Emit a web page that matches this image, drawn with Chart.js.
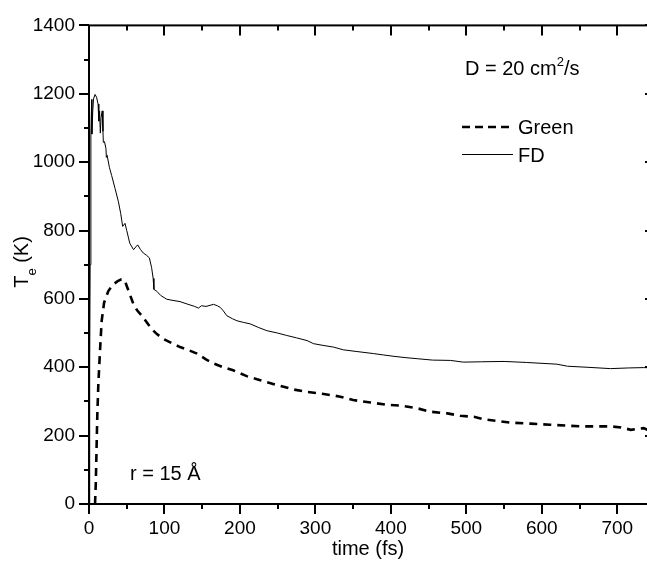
<!DOCTYPE html>
<html>
<head>
<meta charset="utf-8">
<script src="https://cdn.jsdelivr.net/npm/chart.js@4"></script>
<style>
  html, body { margin:0; padding:0; background:#fff; overflow:hidden; }
  #wrap { width:660px; height:574px; }
</style>
</head>
<body>
<div id="wrap"><canvas id="chart" width="660" height="574"></canvas></div>
<script>
// ── data ──
const fdTime = [0,0.8,1,1.5,2.5,3.5,3.8,5,6,8,10,12,13,14,15,16,17.5,18.5,19,20.5,22.5,23,24,27,30,34.5,39,42,44.6,47.7,50,54,59,62,64.5,68,72,76,80,83,85,86,90,95,103,110,120.7,130,140,145,149,155,165,170,174,178,182.5,190,196,205,213.5,225,235.7,250,262,275,289,297.5,310,324,337,355,377,390,404,420,435,455,479,496,520,550,580,620,634,660,691,715,735,750];
const fdTemp = [0,0,400,700,1080,1183,1082,1150,1185,1198,1190,1170,1120,1150,1085,1130,1150,1090,1058,1060,1039,1014,1020,985,961,923,884,850,812,821,800,763,744,752,758,745,734,728,720,691,660,628,622,610,599,596,592,585,578,573,580,578,584,580,575,565,551,542,536,531,527,516,507,500,493,486,478,469,464,459,451,446,440,436,432,428,425,421,420,415,416,417,414,409,403,400,396,398,399,398];

const greenTime = [8,9,10,11,12.4,14.6,16.8,20,25.6,32,38,43,46,48,51,54,59,64,70,76,83,90,98.5,110,120.7,132,143,155,165,178,191,209,227,249,271,289,311,333,350,373,395,413,435,452,475,492,510,523,558,585,611,635,656,691,705,718,735,745,750];
const greenTemp = [0,60,160,260,352,449,536,589,623,642,652,657,657,650,632,614,584,566,551,533,512,497,483,470,459,450,440,423,411,400,391,374,362,348,335,328,322,314,304,297,290,288,280,270,265,258,255,248,238,235,232,229,227,227,224,217,222,212,212];

const seriesNames = ['Green', 'FD'];
const xRange = [0, 750];
const yRange = [0, 1400];
const xStep = 100, xMinor = 50;
const yStep = 200, yMinor = 100;

const FONT = '"Liberation Sans", Arial, Helvetica, sans-serif';

const toPts = (xs, ys) => xs.map((x, i) => ({ x, y: ys[i] }));

// frame, ticks, titles, notes and legend
const decor = {
  id: 'decor',
  afterDraw(chart) {
    const { ctx, chartArea: a, scales: { x, y } } = chart;
    ctx.save();
    ctx.strokeStyle = '#000';
    ctx.fillStyle = '#000';
    ctx.lineWidth = 2;
    ctx.strokeRect(a.left, a.top, a.right - a.left, a.bottom - a.top);

    ctx.beginPath();
    for (let v = xRange[0]; v <= xRange[1]; v += xMinor) {
      const px = Math.round(x.getPixelForValue(v));
      const len = v % xStep === 0 ? 10 : 5;
      ctx.moveTo(px, a.bottom); ctx.lineTo(px, a.bottom + len);
      ctx.moveTo(px, a.top);    ctx.lineTo(px, a.top + len);
    }
    for (let v = yRange[0]; v <= yRange[1]; v += yMinor) {
      const py = Math.round(y.getPixelForValue(v));
      const len = v % yStep === 0 ? 10 : 5;
      ctx.moveTo(a.left - len, py);  ctx.lineTo(a.left, py);
      ctx.moveTo(a.right - len, py); ctx.lineTo(a.right, py);
    }
    ctx.stroke();

    // x title
    ctx.font = `20px ${FONT}`;
    ctx.textAlign = 'center';
    ctx.textBaseline = 'middle';
    ctx.fillText('time (fs)', 368, 549);

    // y title  T_e (K)
    ctx.save();
    ctx.translate(28, 262);
    ctx.rotate(-Math.PI / 2);
    ctx.textBaseline = 'alphabetic';
    ctx.textAlign = 'left';
    const big = `20px ${FONT}`, small = `13px ${FONT}`;
    ctx.font = big;  const wT = ctx.measureText('T').width;
    ctx.font = small; const wE = ctx.measureText('e').width;
    ctx.font = big;  const wK = ctx.measureText(' (K)').width;
    let sx = -(wT + wE + wK) / 2;
    ctx.font = big;  ctx.fillText('T', sx, 0); sx += wT;
    ctx.font = small; ctx.fillText('e', sx, 8); sx += wE;
    ctx.font = big;  ctx.fillText(' (K)', sx, 0);
    ctx.restore();

    // notes
    ctx.textAlign = 'left';
    ctx.textBaseline = 'alphabetic';
    ctx.font = big;
    let tx = 465;
    ctx.fillText('D = 20 cm', tx, 75); tx += ctx.measureText('D = 20 cm').width;
    ctx.font = small; ctx.fillText('2', tx, 66); tx += ctx.measureText('2').width;
    ctx.font = big; ctx.fillText('/s', tx, 75);
    ctx.fillText('r = 15 Å', 130, 480);

    // legend
    ctx.textBaseline = 'middle';
    ctx.lineWidth = 2.5;
    ctx.setLineDash([8, 5]);
    ctx.beginPath(); ctx.moveTo(462, 127); ctx.lineTo(514, 127); ctx.stroke();
    ctx.setLineDash([]);
    ctx.lineWidth = 1;
    ctx.beginPath(); ctx.moveTo(462, 154.5); ctx.lineTo(513, 154.5); ctx.stroke();
    ctx.fillText(seriesNames[0], 518, 128);
    ctx.fillText(seriesNames[1], 518, 156);
    ctx.restore();
  }
};

new Chart(document.getElementById('chart'), {
  type: 'line',
  data: {
    datasets: [
      { label: seriesNames[0], data: toPts(greenTime, greenTemp), borderColor: '#000', borderWidth: 2.6,
        borderDash: [8, 6], pointRadius: 0, tension: 0, fill: false },
      { label: seriesNames[1], data: toPts(fdTime, fdTemp), borderColor: '#000', borderWidth: 1,
        pointRadius: 0, tension: 0, fill: false }
    ]
  },
  options: {
    responsive: false,
    animation: false,
    devicePixelRatio: 1,
    layout: { padding: { left: 0, top: 23, right: 5, bottom: 0 } },
    plugins: { legend: { display: false }, tooltip: { enabled: false } },
    scales: {
      x: {
        type: 'linear', min: xRange[0], max: xRange[1],
        grid: { display: false, drawTicks: false }, border: { display: false },
        ticks: { stepSize: xStep, includeBounds: false, maxRotation: 0, padding: 13,
                 color: '#000', font: { family: FONT, size: 19 }, callback: v => String(v) },
        afterBuildTicks: s => { s.ticks = s.ticks.filter(t => t.value % xStep === 0); },
        afterFit: s => { s.height = 70; }
      },
      y: {
        min: yRange[0], max: yRange[1],
        grid: { display: false, drawTicks: false }, border: { display: false },
        ticks: { stepSize: yStep, padding: 14, color: '#000', font: { family: FONT, size: 19 },
                 callback: v => String(v) },
        afterFit: s => { s.width = 89; }
      }
    }
  },
  plugins: [decor]
});
</script>
</body>
</html>
